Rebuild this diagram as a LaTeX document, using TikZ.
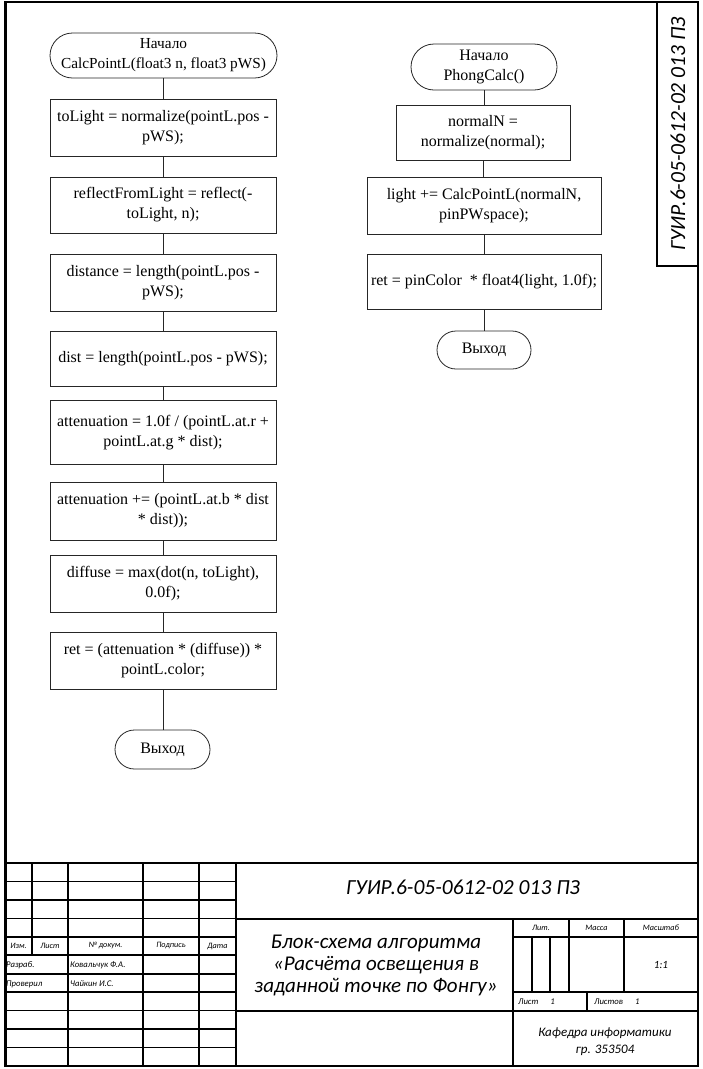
\documentclass[tikz,border=0pt]{standalone}
\usepackage{fontspec}
\setmainfont{Liberation Serif}
\newfontfamily\stampfont{Carlito}
\begin{document}
\begin{tikzpicture}[x=1pt,y=-1pt,
  flowline/.style={draw=black!85,line width=0.8pt},
  procbox/.style={flowline,rectangle,inner sep=0pt,align=center,
    font=\fontsize{16}{20}\selectfont},
  termbox/.style={procbox,rounded corners=#1},
  frameline/.style={line width=1.6pt},
  stampsmall/.style={inner sep=0pt,font=\stampfont\itshape\fontsize{8.2}{9}\selectfont},
  stampname/.style={stampsmall,anchor=west,font=\stampfont\itshape\fontsize{8.7}{9}\selectfont},
  stampbig/.style={inner sep=0pt,align=center,font=\stampfont\itshape\fontsize{21}{22}\selectfont},
  stampcode/.style={inner sep=0pt,font=\stampfont\itshape\fontsize{21.5}{22}\selectfont},
  stampmid/.style={inner sep=0pt,align=center,font=\stampfont\itshape\fontsize{13}{17}\selectfont}]
\useasboundingbox (0,0) rectangle (702,1069);

% ---------- sheet frame ----------
\draw[line width=1.8pt] (5,2) rectangle (698,1066);
\draw[line width=3pt] (5,2) -- (5,1066);
\draw[frameline] (657,2) -- (657,266) -- (698,266);
\node[stampcode,rotate=90] (sidecode) at (678,134) {ГУИР.6-05-0612-02 013 ПЗ};

% ---------- CalcPointL flowchart ----------
\node[termbox=22.5pt,minimum width=227pt,minimum height=45pt,
      font=\fontsize{15.3}{20}\selectfont] (s1) at (163.5,55.5)
  {Начало\\CalcPointL(float3 n, float3 pWS)};
\node[procbox,minimum width=226pt,minimum height=57pt] (b1) at (163,127.5)
  {toLight = normalize(pointL.pos -\\pWS);};
\node[procbox,minimum width=226pt,minimum height=56pt] (b2) at (163,205)
  {reflectFromLight = reflect(-\\toLight, n);};
\node[procbox,minimum width=226pt,minimum height=57pt] (b3) at (163,282.5)
  {distance = length(pointL.pos -\\pWS);};
\node[procbox,minimum width=226pt,minimum height=55pt] (b4) at (163,358.5)
  {dist = length(pointL.pos - pWS);};
\node[procbox,minimum width=226pt,minimum height=64pt] (b5) at (163,432)
  {\raisebox{7pt}{\begin{tabular}{@{}c@{}}attenuation = 1.0f / (pointL.at.r +\\pointL.at.g * dist);\end{tabular}}};
\node[procbox,minimum width=226pt,minimum height=58pt] (b6) at (163,511)
  {attenuation += (pointL.at.b * dist\\* dist));};
\node[procbox,minimum width=226pt,minimum height=57pt] (b7) at (163,583.5)
  {diffuse = max(dot(n, toLight),\\0.0f);};
\node[procbox,minimum width=226pt,minimum height=57pt] (b8) at (163,660.5)
  {ret = (attenuation * (diffuse)) *\\pointL.color;};
\node[termbox=19.5pt,minimum width=95pt,minimum height=39pt] (e1) at (162.5,749.5) {Выход};

\foreach \a/\b in {s1/b1,b1/b2,b2/b3,b3/b4,b4/b5,b5/b6,b6/b7,b7/b8,b8/e1}
  \draw[flowline] (\a.south) -- (\a.south |- \b.north);

% ---------- PhongCalc flowchart ----------
\node[termbox=23pt,minimum width=146pt,minimum height=46pt] (s2) at (484,67)
  {Начало\\PhongCalc()};
\node[procbox,minimum width=174pt,minimum height=55pt] (c1) at (483,132.5)
  {normalN =\\normalize(normal);};
\node[procbox,minimum width=234pt,minimum height=57pt] (c2) at (484,205.5)
  {light += CalcPointL(normalN,\\pinPWspace);};
\node[procbox,minimum width=234pt,minimum height=55pt] (c3) at (484,281.5)
  {ret = pinColor~~* float4(light, 1.0f);};
\node[termbox=19pt,minimum width=94pt,minimum height=38pt] (e2) at (484,350) {Выход};

\foreach \a/\b in {s2/c1,c1/c2,c2/c3,c3/e2}
  \draw[flowline] (\a.south) -- (\a.south |- \b.north);

% ---------- title block ----------
\draw[frameline] (5,863) -- (698,863);
\foreach \k in {1,...,10}
  \draw[frameline] (5,863+\k*18.45) -- (236,863+\k*18.45);
\draw[frameline] (32,863) -- (32,955.5);
\foreach \xx in {68,143,199,236}
  \draw[frameline] (\xx,863) -- (\xx,1066);
\draw[frameline] (236,919) -- (698,919);
\draw[frameline] (236,1011) -- (698,1011);
\draw[frameline] (513,919) -- (513,1066);
\draw[frameline] (513,937) -- (698,937);
\draw[frameline] (513,992) -- (698,992);
\foreach \xx in {569,624}
  \draw[frameline] (\xx,919) -- (\xx,992);
\foreach \xx in {532,550}
  \draw[frameline] (\xx,937) -- (\xx,992);
\draw[frameline] (587,992) -- (587,1011);

\node[stampsmall] (hIzm) at (18.5,946) {Изм.};
\node[stampsmall] (hList) at (50,946) {Лист};
\node[stampsmall] (hDoc) at (105.5,946) {№ докум.};
\node[stampsmall] (hSign) at (171,946) {Подпись};
\node[stampsmall] (hDate) at (217.5,946) {Дата};
\node[stampname] (rDev) at (6,965.5) {Разраб.};
\node[stampname] (nDev) at (70,965.5) {Ковальчук Ф.А.};
\node[stampname] (rChk) at (6,984) {Проверил};
\node[stampname] (nChk) at (70,984) {Чайкин И.С.};

\node[stampcode] (code) at (463,887) {ГУИР.6-05-0612-02 013 ПЗ};
\node[stampbig] (title) at (376,965)
  {Блок-схема алгоритма\\«Расчёта освещения в\\заданной точке по Фонгу»};

\node[stampsmall] (hLit) at (541,928) {Лит.};
\node[stampsmall] (hMass) at (596.5,928) {Масса};
\node[stampsmall] (hScale) at (661,928) {Масштаб};
\node[inner sep=0pt,font=\stampfont\itshape\fontsize{11}{12}\selectfont] (scale) at (661,965) {1:1};
\node[stampname] (sheet) at (518,1001.5) {Лист\hspace{12pt}1};
\node[stampname] (sheets) at (594,1001.5) {Листов\hspace{12pt}1};
\node[stampmid] (dept) at (605,1042) {Кафедра информатики\\гр. 353504};
\end{tikzpicture}
\end{document}
